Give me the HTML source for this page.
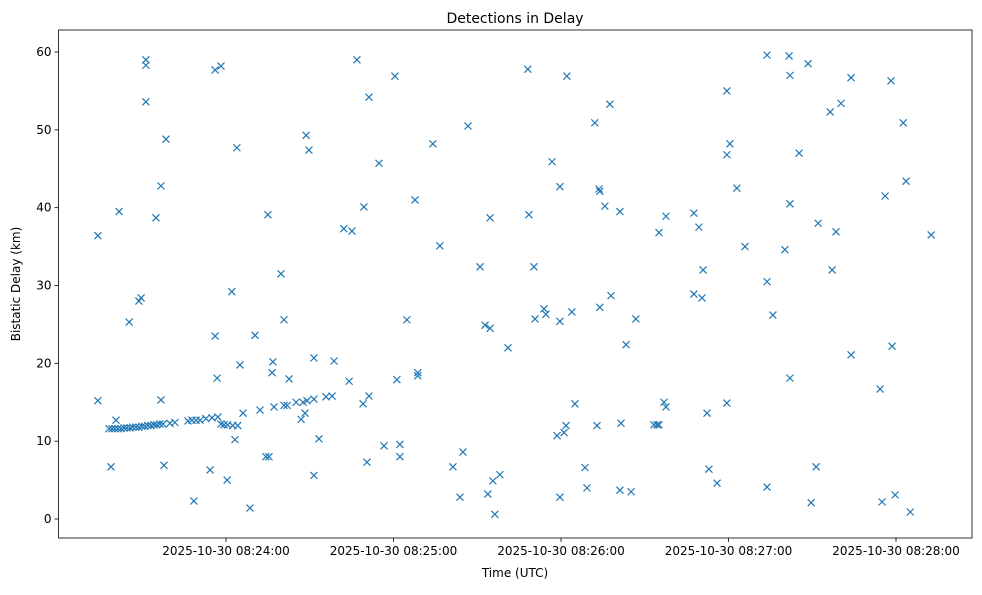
<!DOCTYPE html>
<html><head><meta charset="utf-8"><style>
body{margin:0;background:#fff;font-family:"Liberation Sans","DejaVu Sans",sans-serif}
</style></head><body>
<svg id="chart" width="982" height="590" xmlns="http://www.w3.org/2000/svg" font-family="DejaVu Sans, Liberation Sans, sans-serif"></svg>
<script>
// time in seconds after 08:23:00 UTC
const timesSec = [14.1,14.1,18.8,20.6,21.7,25.3,28.8,29.6,31.3,31.3,31.3,34.9,36.7,36.7,37.8,38.5,48.5,54.3,56.1,56.1,56.8,58.2,60.4,62.1,63.2,63.9,65.0,66.1,68.6,70.4,72.2,74.3,75.4,75.0,76.5,76.8,77.2,79.7,80.8,80.8,81.9,82.6,85.1,86.9,87.6,88.3,89.0,88.7,89.7,91.5,91.5,91.5,93.3,95.8,98.0,98.7,102.2,104.1,105.1,106.9,109.1,109.4,110.5,111.2,111.2,114.8,116.6,120.5,121.2,122.3,122.3,124.8,127.7,128.7,128.7,134.1,136.6,141.3,143.8,144.9,146.7,151.0,152.8,153.8,154.6,154.6,155.6,156.3,158.1,161.0,168.1,168.5,170.3,170.7,173.9,174.6,176.8,178.6,179.6,179.6,179.6,181.1,181.8,182.1,183.9,185.0,188.6,189.3,192.1,192.9,193.6,193.9,193.9,195.7,197.5,197.9,201.1,201.1,201.5,203.3,205.1,206.8,213.3,214.4,215.1,215.1,216.9,217.6,217.6,227.6,227.6,229.4,230.5,230.9,232.3,233.0,235.9,239.4,239.4,239.4,240.5,243.0,245.9,253.8,253.8,253.8,255.9,260.2,261.7,262.0,262.0,262.0,265.3,268.5,269.6,271.4,272.1,276.4,277.1,278.5,280.3,283.9,283.9,294.3,295.0,296.1,298.2,298.6,299.7,302.6,303.6,305.1,312.6,
18.1,19.2,20.2,21.3,22.4,23.5,24.5,25.6,26.6,27.7,28.8,29.9,30.9,32.0,33.1,34.2,35.2,36.3,37.4,39.9,41.7,46.4,47.8,49.3,50.7,52.8,55.0,57.1,58.2,59.3,60.6,62.4,64.2];
const delayKm = [36.4,15.2,6.7,12.7,39.5,25.3,28.0,28.4,59.0,58.3,53.6,38.7,42.8,15.3,6.9,48.8,2.3,6.3,23.5,57.7,18.1,58.2,5.0,29.2,10.2,47.7,19.8,13.6,1.4,23.6,14.0,8.0,8.0,39.1,18.8,20.2,14.4,31.5,25.6,14.6,14.6,18.0,15.0,12.8,15.0,13.6,15.2,49.3,47.4,5.6,20.7,15.4,10.3,15.7,15.8,20.3,37.3,17.7,37.0,59.0,14.8,40.1,7.3,54.2,15.8,45.7,9.4,56.9,17.9,9.6,8.0,25.6,41.0,18.8,18.4,48.2,35.1,6.7,2.8,8.6,50.5,32.4,24.9,3.2,38.7,24.5,4.9,0.6,5.7,22.0,57.8,39.1,32.4,25.7,27.0,26.3,45.9,10.7,42.7,25.4,2.8,11.1,12.0,56.9,26.6,14.8,6.6,4.0,50.9,12.0,42.4,27.2,42.1,40.2,53.3,28.7,39.5,3.7,12.3,22.4,3.5,25.7,12.1,12.1,12.1,36.8,15.0,38.9,14.4,39.3,28.9,37.5,28.4,32.0,13.6,6.4,4.6,55.0,46.8,14.9,48.2,42.5,35.0,59.6,30.5,4.1,26.2,34.6,59.5,57.0,40.5,18.1,47.0,58.5,2.1,6.7,38.0,52.3,32.0,36.9,53.4,56.7,21.1,16.7,2.2,41.5,56.3,22.2,3.1,50.9,43.4,0.9,36.5,
11.6,11.6,11.6,11.6,11.6,11.7,11.7,11.7,11.8,11.8,11.8,11.9,11.9,12.0,12.0,12.1,12.1,12.2,12.2,12.3,12.4,12.6,12.7,12.7,12.7,12.9,13.0,13.1,12.2,12.1,12.1,12.0,12.0];
const xTickSec = [60,120,180,240,300];
const xTickLabels = ["2025-10-30 08:24:00","2025-10-30 08:25:00","2025-10-30 08:26:00","2025-10-30 08:27:00","2025-10-30 08:28:00"];
const yTicks = [0,10,20,30,40,50,60];

const svg=document.getElementById('chart');
const NS='http://www.w3.org/2000/svg';
const L=58.5,R=972,T=30,B=538;
const xs=s=>58.5+s*2.7917;
const ys=v=>519-v*7.783;
function mk(tag,attrs,parent){const e=document.createElementNS(NS,tag);for(const k in attrs)e.setAttribute(k,attrs[k]);(parent||svg).appendChild(e);return e;}

const title=mk('text',{x:515,y:23,'text-anchor':'middle','font-size':14,fill:'#000'});
title.textContent='Detections in Delay';



const g=mk('g',{});


for(let i=0;i<timesSec.length;i++){
  const x=xs(timesSec[i]),y=ys(delayKm[i]);
  const m=mk('path',{d:`M${x-3.5},${y-3.5}L${x+3.5},${y+3.5}M${x-3.5},${y+3.5}L${x+3.5},${y-3.5}`,stroke:'#1f77b4','stroke-width':1.2,fill:'none'},g);
  
  
}

const frame=mk('rect',{x:L,y:T,width:R-L,height:B-T,fill:'none',stroke:'#000','stroke-width':0.8});



xTickSec.forEach((s,i)=>{
  const x=xs(s);
  mk('line',{x1:x,x2:x,y1:B,y2:B+4,stroke:'#000','stroke-width':0.8});
  const t=mk('text',{x:x,y:B+17,'text-anchor':'middle','font-size':12});
  t.textContent=xTickLabels[i];
  
  
});
yTicks.forEach(v=>{
  const y=ys(v);
  mk('line',{x1:L-4,x2:L,y1:y,y2:y,stroke:'#000','stroke-width':0.8});
  const t=mk('text',{x:L-7,y:y+4,'text-anchor':'end','font-size':12});
  t.textContent=v;
  
  
});
const xl=mk('text',{x:515,y:577,'text-anchor':'middle','font-size':12});
xl.textContent='Time (UTC)';


const yl=mk('text',{x:20,y:284,'text-anchor':'middle','font-size':12,transform:'rotate(-90 20 284)'});
yl.textContent='Bistatic Delay (km)';


</script>
</body></html>
